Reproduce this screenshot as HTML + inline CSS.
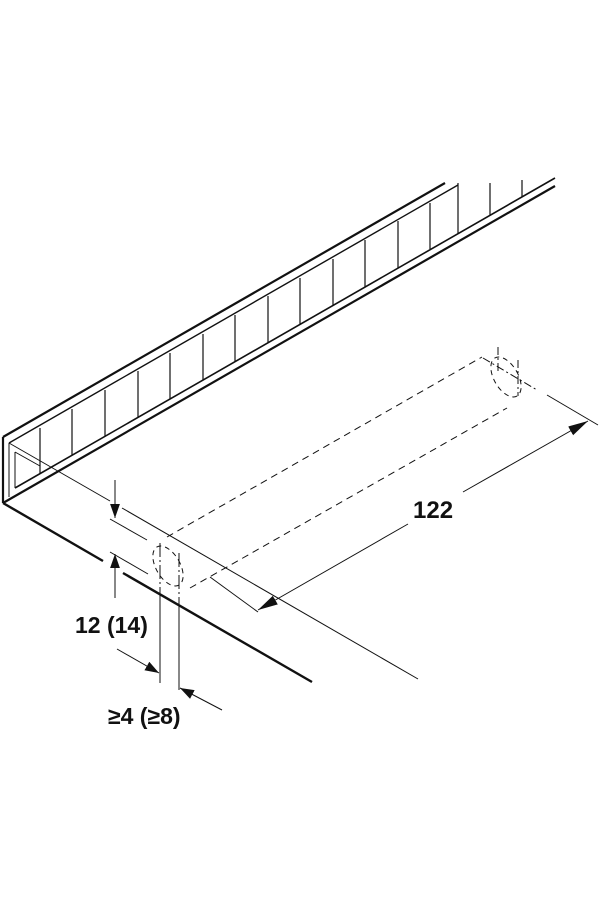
<!DOCTYPE html>
<html><head><meta charset="utf-8"><style>
html,body{margin:0;padding:0;background:#fff;width:600px;height:900px;overflow:hidden}
svg{display:block}
text{font-family:"Liberation Sans",Arial,sans-serif;font-weight:bold;fill:#111}
</style></head><body>
<svg width="600" height="900" viewBox="0 0 600 900" xmlns="http://www.w3.org/2000/svg">
<defs>
<marker id="ah" viewBox="0 0 10 10" refX="10" refY="5" markerWidth="14" markerHeight="14" markerUnits="userSpaceOnUse" orient="auto">
<path d="M0,1.5 L10,5 L0,8.5 Z" fill="#111"/></marker>
<marker id="ah2" viewBox="0 0 10 10" refX="10" refY="5" markerWidth="20" markerHeight="20" markerUnits="userSpaceOnUse" orient="auto">
<path d="M0,2.5 L10,5 L0,7.5 Z" fill="#111"/></marker>
</defs>
<g stroke="#111" fill="none" stroke-linecap="butt">
<line x1="3" y1="437" x2="445" y2="183" stroke-width="2.2"/>
<line x1="9" y1="443" x2="458" y2="185" stroke-width="1.4"/>
<line x1="15" y1="488" x2="555" y2="178" stroke-width="1.6"/>
<line x1="3" y1="503" x2="555" y2="186" stroke-width="2.2"/>
<line x1="3" y1="437" x2="3" y2="503" stroke-width="2.2"/>
<line x1="9" y1="443" x2="9" y2="497" stroke-width="1"/>
<line x1="15" y1="452" x2="15" y2="488" stroke-width="1"/>
<line x1="15" y1="452" x2="40" y2="466" stroke-width="1"/>
<line x1="458" y1="183" x2="458" y2="234" stroke-width="1.2"/>
<line x1="490" y1="183" x2="490" y2="215" stroke-width="1.2"/>
<line x1="522" y1="180" x2="522" y2="197" stroke-width="1.2"/>
<g stroke-width="1.2">
<line x1="40" y1="428" x2="40" y2="474"/>
<line x1="72" y1="409" x2="72" y2="455"/>
<line x1="105" y1="390" x2="105" y2="436"/>
<line x1="138" y1="371" x2="138" y2="417"/>
<line x1="170" y1="353" x2="170" y2="399"/>
<line x1="203" y1="334" x2="203" y2="380"/>
<line x1="235" y1="315" x2="235" y2="362"/>
<line x1="268" y1="296" x2="268" y2="343"/>
<line x1="300" y1="278" x2="300" y2="324"/>
<line x1="333" y1="259" x2="333" y2="305"/>
<line x1="365" y1="240" x2="365" y2="287"/>
<line x1="398" y1="221" x2="398" y2="268"/>
<line x1="430" y1="203" x2="430" y2="249"/>
</g>
<line x1="3" y1="503" x2="103" y2="561" stroke-width="2.4"/>
<line x1="123" y1="573" x2="312" y2="682" stroke-width="2.4"/>
<line x1="9" y1="443" x2="110" y2="501" stroke-width="1"/>
<line x1="122" y1="508" x2="418" y2="679" stroke-width="1"/>
<line x1="110" y1="519" x2="147" y2="540" stroke-width="1"/>
<line x1="210" y1="577" x2="258" y2="612" stroke-width="1"/>
<line x1="110" y1="552" x2="148" y2="574" stroke-width="1"/>
<line x1="167" y1="537" x2="482" y2="357" stroke-width="1" stroke-dasharray="7,5"/>
<line x1="190" y1="588" x2="507" y2="408" stroke-width="1" stroke-dasharray="7,5"/>
<ellipse cx="168" cy="566" rx="12" ry="22" transform="rotate(-30 168 566)" stroke-width="1" stroke-dasharray="5,4"/>
<line x1="160" y1="543" x2="160" y2="683" stroke-width="1" stroke-dasharray="14,3,2,3"/>
<line x1="179" y1="553" x2="179" y2="690" stroke-width="1" stroke-dasharray="14,3,2,3"/>
<line x1="160" y1="595" x2="160" y2="683" stroke-width="1"/>
<line x1="179" y1="605" x2="179" y2="690" stroke-width="1"/>
<ellipse cx="506" cy="377" rx="12" ry="22" transform="rotate(-30 506 377)" stroke-width="1" stroke-dasharray="5,4"/>
<line x1="483" y1="358" x2="537" y2="390" stroke-width="1" stroke-dasharray="8,3,2,3"/>
<line x1="498" y1="347" x2="498" y2="373" stroke-width="1" stroke-dasharray="8,3,2,3"/>
<line x1="518" y1="360" x2="518" y2="396" stroke-width="1" stroke-dasharray="8,3,2,3"/>
<line x1="547" y1="395" x2="598" y2="425" stroke-width="1"/>
<line x1="408" y1="524" x2="258" y2="610" stroke-width="1" marker-end="url(#ah2)"/>
<line x1="463" y1="492" x2="588" y2="421" stroke-width="1" marker-end="url(#ah2)"/>
<line x1="115" y1="480" x2="115" y2="518" stroke-width="1" marker-end="url(#ah)"/>
<line x1="115" y1="598" x2="115" y2="554" stroke-width="1" marker-end="url(#ah)"/>
<line x1="117" y1="649" x2="159" y2="673" stroke-width="1" marker-end="url(#ah)"/>
<line x1="222" y1="710" x2="180" y2="688" stroke-width="1" marker-end="url(#ah)"/>
</g>
<text x="413" y="518" font-size="24">122</text>
<text x="75" y="633" font-size="23">12 (14)</text>
<text x="108" y="724" font-size="23">≥4 (≥8)</text>
</svg>
</body></html>
